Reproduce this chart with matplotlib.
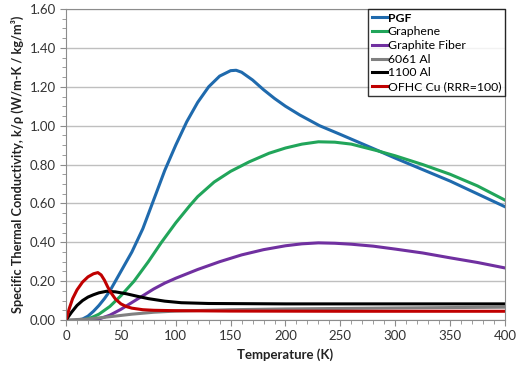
import matplotlib.pyplot as plt
from matplotlib.ticker import MultipleLocator, FormatStrFormatter

plt.rcParams['font.family'] = ['Lato', 'DejaVu Sans']

# PGF
t_pgf = [10, 15, 20, 25, 30, 35, 40, 45, 50, 55, 60, 70, 80, 90, 100, 110, 120, 130, 140,
         150, 155, 160, 170, 180, 190, 200, 213, 231, 250, 283, 300, 350, 400]
k_pgf = [0.0, 0.005, 0.02, 0.045, 0.075, 0.11, 0.15, 0.2, 0.25, 0.3, 0.35, 0.47, 0.62, 0.77,
         0.9, 1.02, 1.12, 1.2, 1.255, 1.283, 1.285, 1.275, 1.235, 1.185, 1.14, 1.1, 1.055, 1.0,
         0.955, 0.875, 0.833, 0.715, 0.583]

# Graphene
t_gr = [15, 20, 25, 30, 40, 50, 62, 75, 87, 100, 113, 120, 135, 150, 167, 185, 200, 215,
        230, 245, 260, 283, 300, 325, 350, 375, 400]
k_gr = [0.0, 0.006, 0.017, 0.03, 0.07, 0.125, 0.2, 0.3, 0.4, 0.5, 0.59, 0.635, 0.71, 0.765,
        0.814, 0.858, 0.885, 0.905, 0.917, 0.915, 0.905, 0.872, 0.845, 0.8, 0.75, 0.69, 0.617]

# Graphite Fiber
t_gf = [20, 30, 40, 50, 60, 70, 80, 90, 100, 120, 140, 160, 180, 200, 215, 230, 245, 260,
        280, 300, 325, 350, 375, 400]
k_gf = [0.0, 0.005, 0.025, 0.055, 0.09, 0.125, 0.16, 0.19, 0.215, 0.26, 0.3, 0.335, 0.362,
        0.382, 0.392, 0.397, 0.395, 0.39, 0.38, 0.365, 0.345, 0.32, 0.296, 0.268]

# 6061 Al
t_al6 = [0, 20, 40, 60, 80, 100, 150, 200, 300, 400]
k_al6 = [0.0, 0.005, 0.017, 0.03, 0.04, 0.046, 0.053, 0.057, 0.062, 0.066]

# 1100 Al
t_al1 = [0, 5, 10, 15, 20, 25, 30, 37, 45, 55, 65, 75, 90, 105, 130, 200, 300, 400]
k_al1 = [0.0, 0.04, 0.075, 0.1, 0.118, 0.13, 0.14, 0.148, 0.145, 0.135, 0.122, 0.11, 0.097,
         0.089, 0.085, 0.083, 0.083, 0.083]

# OFHC Cu (RRR=100)
t_cu = [0, 3, 6, 10, 15, 20, 25, 29, 32, 35, 38, 41, 45, 50, 55, 60, 70, 80, 100, 150, 250, 400]
k_cu = [0.0, 0.06, 0.11, 0.155, 0.195, 0.222, 0.238, 0.244, 0.232, 0.205, 0.17, 0.14, 0.108,
        0.083, 0.069, 0.061, 0.053, 0.05, 0.048, 0.046, 0.045, 0.045]

fig = plt.figure(figsize=(5.2, 3.68), dpi=100)
ax = fig.add_axes([0.127, 0.1304, 0.844, 0.845])

lw = 2.2
ax.plot(t_pgf, k_pgf, color='#1f6aad', lw=lw, label='PGF')
ax.plot(t_gr, k_gr, color='#21a55a', lw=lw, label='Graphene')
ax.plot(t_gf, k_gf, color='#7030a0', lw=lw, label='Graphite Fiber')
ax.plot(t_al6, k_al6, color='#808080', lw=lw, label='6061 Al')
ax.plot(t_al1, k_al1, color='black', lw=lw, label='1100 Al')
ax.plot(t_cu, k_cu, color='#c00000', lw=lw, label='OFHC Cu (RRR=100)')

ax.set_xlim(0, 400)
ax.set_ylim(0, 1.6)
ax.xaxis.set_major_locator(MultipleLocator(50))
ax.xaxis.set_minor_locator(MultipleLocator(10))
ax.yaxis.set_major_locator(MultipleLocator(0.2))
ax.yaxis.set_minor_locator(MultipleLocator(0.05))
ax.yaxis.set_major_formatter(FormatStrFormatter('%.2f'))
ax.grid(axis='y', which='major', color='#bfbfbf', lw=1)
ax.set_axisbelow(True)
for s in ax.spines.values():
    s.set_color('#8c8c8c')
ax.tick_params(which='both', direction='out', colors='#8c8c8c', labelcolor='#333333',
               labelsize=9.5)
ax.tick_params(which='major', length=4)
ax.tick_params(which='minor', length=3)

ax.set_xlabel('Temperature (K)', fontsize=9.5, fontweight='bold', color='#222222')
ax.set_ylabel('Specific Thermal Conductivity, k/ρ (W/m-K / kg/m³)', fontsize=9.2,
              fontweight='bold', color='#222222')

leg = ax.legend(loc='upper right', bbox_to_anchor=(1.0, 1.0), fontsize=8.8, frameon=True,
                fancybox=False, edgecolor='black', handlelength=1.2, handletextpad=0.1,
                labelspacing=0.22, borderpad=0.3, borderaxespad=0.0)
leg.get_frame().set_linewidth(1.0)
leg.get_texts()[0].set_fontweight('bold')

fig.savefig('out.png', dpi=100)
